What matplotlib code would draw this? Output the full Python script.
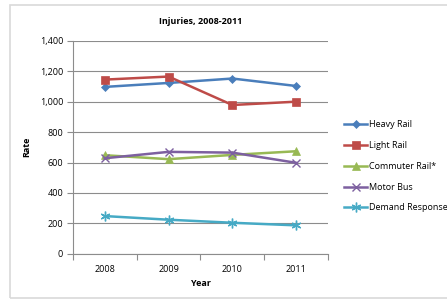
import matplotlib.pyplot as plt
from matplotlib.patches import Rectangle

years = ['2008', '2009', '2010', '2011']
heavy_rail = [1097, 1123, 1152, 1103]
light_rail = [1145, 1165, 978, 1000]
commuter_rail = [648, 622, 650, 674]
motor_bus = [628, 670, 665, 598]
demand_response = [248, 224, 204, 187]

series = [
    ('Heavy Rail', heavy_rail, '#4A7EBB', 'D', 4),
    ('Light Rail', light_rail, '#BE4B48', 's', 6),
    ('Commuter Rail*', commuter_rail, '#98B954', '^', 6),
    ('Motor Bus', motor_bus, '#7D60A0', 'x', 6),
    ('Demand Response', demand_response, '#46AAC5', (6, 2, 0), 7),
]

plt.rcParams['font.family'] = ['Open Sans', 'DejaVu Sans']

fig = plt.figure(figsize=(4.47, 3.0), dpi=100)
fig.patches.append(Rectangle((10 / 447, 2 / 300), 1.0, 293 / 300,
                             transform=fig.transFigure, fill=False,
                             edgecolor='#D9D9D9', linewidth=1.2))

ax = fig.add_axes([0.163, 0.154, 0.571, 0.71])
x = list(range(len(years)))
for name, vals, color, marker, ms in series:
    ax.plot(x, vals, color=color, linewidth=1.8, marker=marker, markersize=ms,
            markeredgewidth=1.0 if marker in ('x', (6, 2, 0)) else 0.5,
            markeredgecolor=color, markerfacecolor=color, label=name)

ax.set_xlim(-0.5, 3.5)
ax.set_ylim(0, 1400)
ax.set_yticks(range(0, 1401, 200))
ax.set_yticklabels([f'{v:,}' for v in range(0, 1401, 200)], fontsize=6.5)
ax.yaxis.grid(True, color='#8C8C8C', linewidth=0.8)
ax.set_axisbelow(True)

ax.set_xticks([-0.5, 0.5, 1.5, 2.5, 3.5])
ax.set_xticklabels([])
ax.set_xticks(x, minor=True)
ax.set_xticklabels(years, minor=True, fontsize=6.5)
ax.tick_params(axis='x', which='minor', length=0, pad=8)
ax.tick_params(axis='x', which='major', length=4, color='#8C8C8C')
ax.tick_params(axis='y', length=4, color='#8C8C8C', pad=3)

for s in ('top', 'right'):
    ax.spines[s].set_visible(False)
for s in ('left', 'bottom'):
    ax.spines[s].set_color('#8C8C8C')

ax.set_title('Injuries, 2008-2011', fontsize=6.5, fontweight='bold', pad=12)
ax.set_xlabel('Year', fontsize=6.5, fontweight='bold', labelpad=4)
ax.set_ylabel('Rate', fontsize=6.5, fontweight='bold', labelpad=6)

ax.legend(loc='center left', bbox_to_anchor=(1.05, 0.41), frameon=False,
          fontsize=6.5, handlelength=2.5, handletextpad=0.2, labelspacing=1.3,
          borderaxespad=0)

fig.savefig('out.png', dpi=100)
